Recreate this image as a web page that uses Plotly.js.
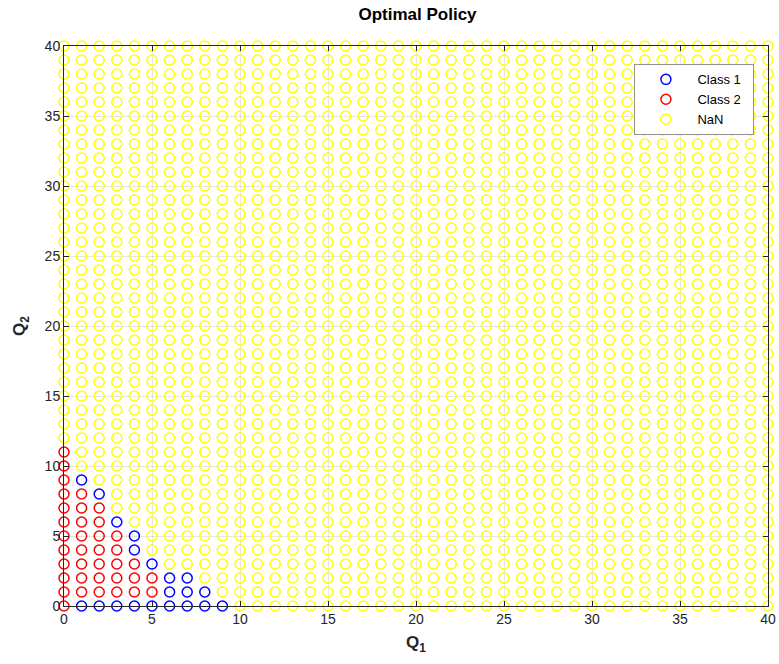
<!DOCTYPE html>
<html>
<head>
<meta charset="utf-8">
<script src="https://cdn.plot.ly/plotly-3.0.1.min.js"></script>
<style>html,body{margin:0;padding:0;background:#fff;}#chart{width:779px;height:664px;}</style>
</head>
<body>
<div id="chart"></div>
<script>
// Grid extent (Q1, Q2 from 0 to 40)
const gridMax = 40;
// Class 1 (blue) points
const class1Q1 = [1,2,3,4,5,6,7,8,9, 6,7,8, 6,7, 5, 4, 4, 3, 2, 1];
const class1Q2 = [0,0,0,0,0,0,0,0,0, 1,1,1, 2,2, 3, 4, 5, 6, 8, 9];
// Class 2 (red): number of red points starting at Q1=0 for each row Q2 = 0..11
const class2RowLength = [1,6,6,5,4,4,3,3,2,1,1,1];
const seriesNames = ['Class 1', 'Class 2', 'NaN'];
const tickVals = [0,5,10,15,20,25,30,35,40];

const class2Q1 = [], class2Q2 = [];
class2RowLength.forEach((n, q2) => { for (let q1 = 0; q1 < n; q1++) { class2Q1.push(q1); class2Q2.push(q2); } });
const taken = new Set();
class1Q1.forEach((v, i) => taken.add(v + ',' + class1Q2[i]));
class2Q1.forEach((v, i) => taken.add(v + ',' + class2Q2[i]));
const nanQ1 = [], nanQ2 = [];
for (let q2 = 0; q2 <= gridMax; q2++) for (let q1 = 0; q1 <= gridMax; q1++) {
  if (!taken.has(q1 + ',' + q2)) { nanQ1.push(q1); nanQ2.push(q2); }
}

const pad = '\u00a0\u00a0';
const mk = (c) => ({symbol: 'circle-open', size: 10, color: c, line: {color: c, width: 1.5}});
const traces = [
  {x: class1Q1, y: class1Q2, mode: 'markers', type: 'scatter', name: seriesNames[0] + pad, marker: mk('rgb(0,0,255)'), cliponaxis: false},
  {x: class2Q1, y: class2Q2, mode: 'markers', type: 'scatter', name: seriesNames[1] + pad, marker: mk('rgb(255,0,0)'), cliponaxis: false},
  {x: nanQ1, y: nanQ2, mode: 'markers', type: 'scatter', name: seriesNames[2] + pad, marker: mk('rgb(255,255,0)'), cliponaxis: false}
];
const fam = 'Liberation Sans, Arial, sans-serif';
const axisCommon = {
  range: [0, 40], tickvals: tickVals, ticks: 'inside', ticklen: 5, tickcolor: '#262626',
  showline: true, linecolor: '#262626', linewidth: 1, mirror: 'ticks',
  showgrid: true, gridcolor: 'rgba(0,0,0,0.1)', gridwidth: 1, zeroline: false,
  tickfont: {family: fam, size: 14, color: '#262626'}
};
const layout = {
  width: 779, height: 664,
  margin: {l: 64, r: 11, t: 46, b: 58},
  paper_bgcolor: '#fff', plot_bgcolor: '#fff',
  title: {text: '<b>Optimal Policy</b>', x: 0.536, xanchor: 'center', y: 0.979, yanchor: 'middle',
          font: {family: fam, size: 17, color: '#000'}},
  xaxis: Object.assign({}, axisCommon, {title: {text: '<b>Q<sub>1</sub></b>', standoff: 10,
          font: {family: fam, size: 17, color: '#262626'}}}),
  yaxis: Object.assign({}, axisCommon, {title: {text: '<b>Q<sub>2</sub></b>', standoff: 14,
          font: {family: fam, size: 17, color: '#262626'}}}),
  showlegend: true,
  legend: {x: 0.980, xanchor: 'right', y: 0.968, yanchor: 'top', bgcolor: '#fff',
           bordercolor: '#262626', borderwidth: 0.5,
           font: {family: fam, size: 13, color: '#000'},
           itemwidth: 53}
};
Plotly.newPlot('chart', traces, layout, {displayModeBar: false, staticPlot: true});
</script>
</body>
</html>
